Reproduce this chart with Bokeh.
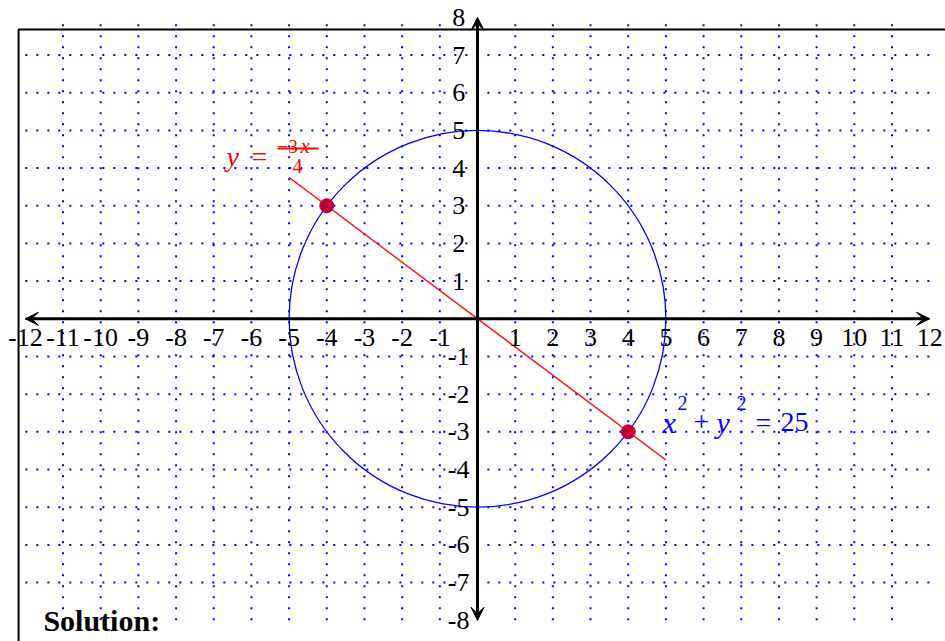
from bokeh.plotting import figure
from bokeh.models import Range1d, Arrow, VeeHead
from bokeh.core.properties import value
from bokeh.embed import file_html
from bokeh.resources import INLINE

# ---- data ----
x_ticks = [-12, -11, -10, -9, -8, -7, -6, -5, -4, -3, -2, -1, 1, 2, 3, 4, 5, 6, 7, 8, 9, 10, 11, 12]
y_ticks = [-8, -7, -6, -5, -4, -3, -2, -1, 1, 2, 3, 4, 5, 6, 7, 8]
x_tick_labels = [str(v) for v in x_ticks]
y_tick_labels = [str(v) for v in y_ticks]
grid_x = [-11, -10, -9, -8, -7, -6, -5, -4, -3, -2, -1, 0, 1, 2, 3, 4, 5, 6, 7, 8, 9, 10, 11]
grid_y = [-7, -6, -5, -4, -3, -2, -1, 0, 1, 2, 3, 4, 5, 6, 7]
circle_radius = 5
line_x = [-5, 5]
line_y = [3.75, -3.75]
points_x = [-4, 4]
points_y = [3, -3]

# ---- layout ----
W, H = 945, 641
S = 37.68            # px per unit
OX, OY = 477, 318.3  # origin in canvas px
x_range = Range1d(-OX / S, (W - OX) / S)
y_range = Range1d(-(H - OY) / S, OY / S)

SERIF = value("Liberation Serif")
BLUE = "#0000ff"
RED = "#ff0000"
DOT = "#c0003c"

p = figure(width=W, height=H, x_range=x_range, y_range=y_range,
           output_backend="svg", toolbar_location=None,
           x_axis_location=None, y_axis_location=None, min_border=0)
p.grid.visible = False
p.outline_line_color = None
p.background_fill_color = "white"

# dotted grid
p.segment(x0=grid_x, y0=[-8] * len(grid_x), x1=grid_x, y1=[8] * len(grid_x),
          line_color=BLUE, line_width=2, line_dash=value("2 9"))
p.segment(x0=[-12] * len(grid_y), y0=grid_y, x1=[12] * len(grid_y), y1=grid_y,
          line_color=BLUE, line_width=2, line_dash=value("2 9"))

# frame
frame_left, frame_top = -12.18, 7.68
p.line(x=[frame_left, frame_left, 20], y=[-20, frame_top, frame_top],
       line_color="black", line_width=2)

# circle
p.circle(x=[0], y=[0], radius=circle_radius, fill_color=None,
         line_color=BLUE, line_width=1.3)

# axes with arrows
for xs, ys, xe, ye in [(-12, 0, 12, 0), (0, -8, 0, 8)]:
    p.add_layout(Arrow(x_start=xs, y_start=ys, x_end=xe, y_end=ye,
                       line_width=3, line_color="black",
                       start=VeeHead(size=13, fill_color="black", line_color="black", line_width=1),
                       end=VeeHead(size=13, fill_color="black", line_color="black", line_width=1)))

# red line
p.line(x=line_x, y=line_y, line_color=RED, line_width=1.3)

# points
p.scatter(x=points_x, y=points_y, size=14, fill_color=DOT, line_color=DOT)

# tick labels
p.text(x=x_ticks, y=[-0.5] * len(x_ticks), text=x_tick_labels,
       text_font=SERIF, text_font_size="26px", text_align="center",
       text_baseline="middle", text_color="black")
p.text(x=[-0.5] * len(y_ticks), y=y_ticks, text=y_tick_labels,
       text_font=SERIF, text_font_size="26px", text_align="center",
       text_baseline="middle", text_color="black")


def piece(x, y, t, dx, dy, size, color, style="normal", align="left", base="alphabetic"):
    p.text(x=[x], y=[y], text=[t], x_offset=dx, y_offset=dy,
           text_font=SERIF, text_font_size=size, text_font_style=style,
           text_color=color, text_align=align, text_baseline=base)


# red label: y = -3x/4
rx, ry = -4.777, 4.52
piece(rx, ry, "y", -71, 8, "28px", RED, "italic")
piece(rx, ry, "=", -38, 8, "28px", RED, align="center")
piece(rx, ry, "\u22123", -20, -2, "19px", RED)
piece(rx, ry, "x", 3, -2, "21px", RED, "italic")
piece(rx, ry, "4", 0, 18, "20px", RED, align="center")
p.segment(x0=[rx - 20 / S], y0=[ry], x1=[rx + 21 / S], y1=[ry],
          line_color=RED, line_width=2)

# blue label: x^2 + y^2 = 25
bx, by = 4.91, -2.752
piece(bx, by, "x", 0, 0, "30px", BLUE, "italic")
piece(bx, by, "2", 15, -19, "20px", BLUE)
piece(bx, by, "+", 39, 0, "28px", BLUE, align="center")
piece(bx, by, "y", 54, 0, "30px", BLUE, "italic")
piece(bx, by, "2", 74, -19, "20px", BLUE)
piece(bx, by, "=", 101, 0, "28px", BLUE, align="center")
piece(bx, by, "25", 118, 0, "28px", BLUE)

# Solution
piece(-11.52, -8.0, "Solution:", 0, 0, "30px", "black", "bold")

open("out.html", "w").write(file_html(p, INLINE))
